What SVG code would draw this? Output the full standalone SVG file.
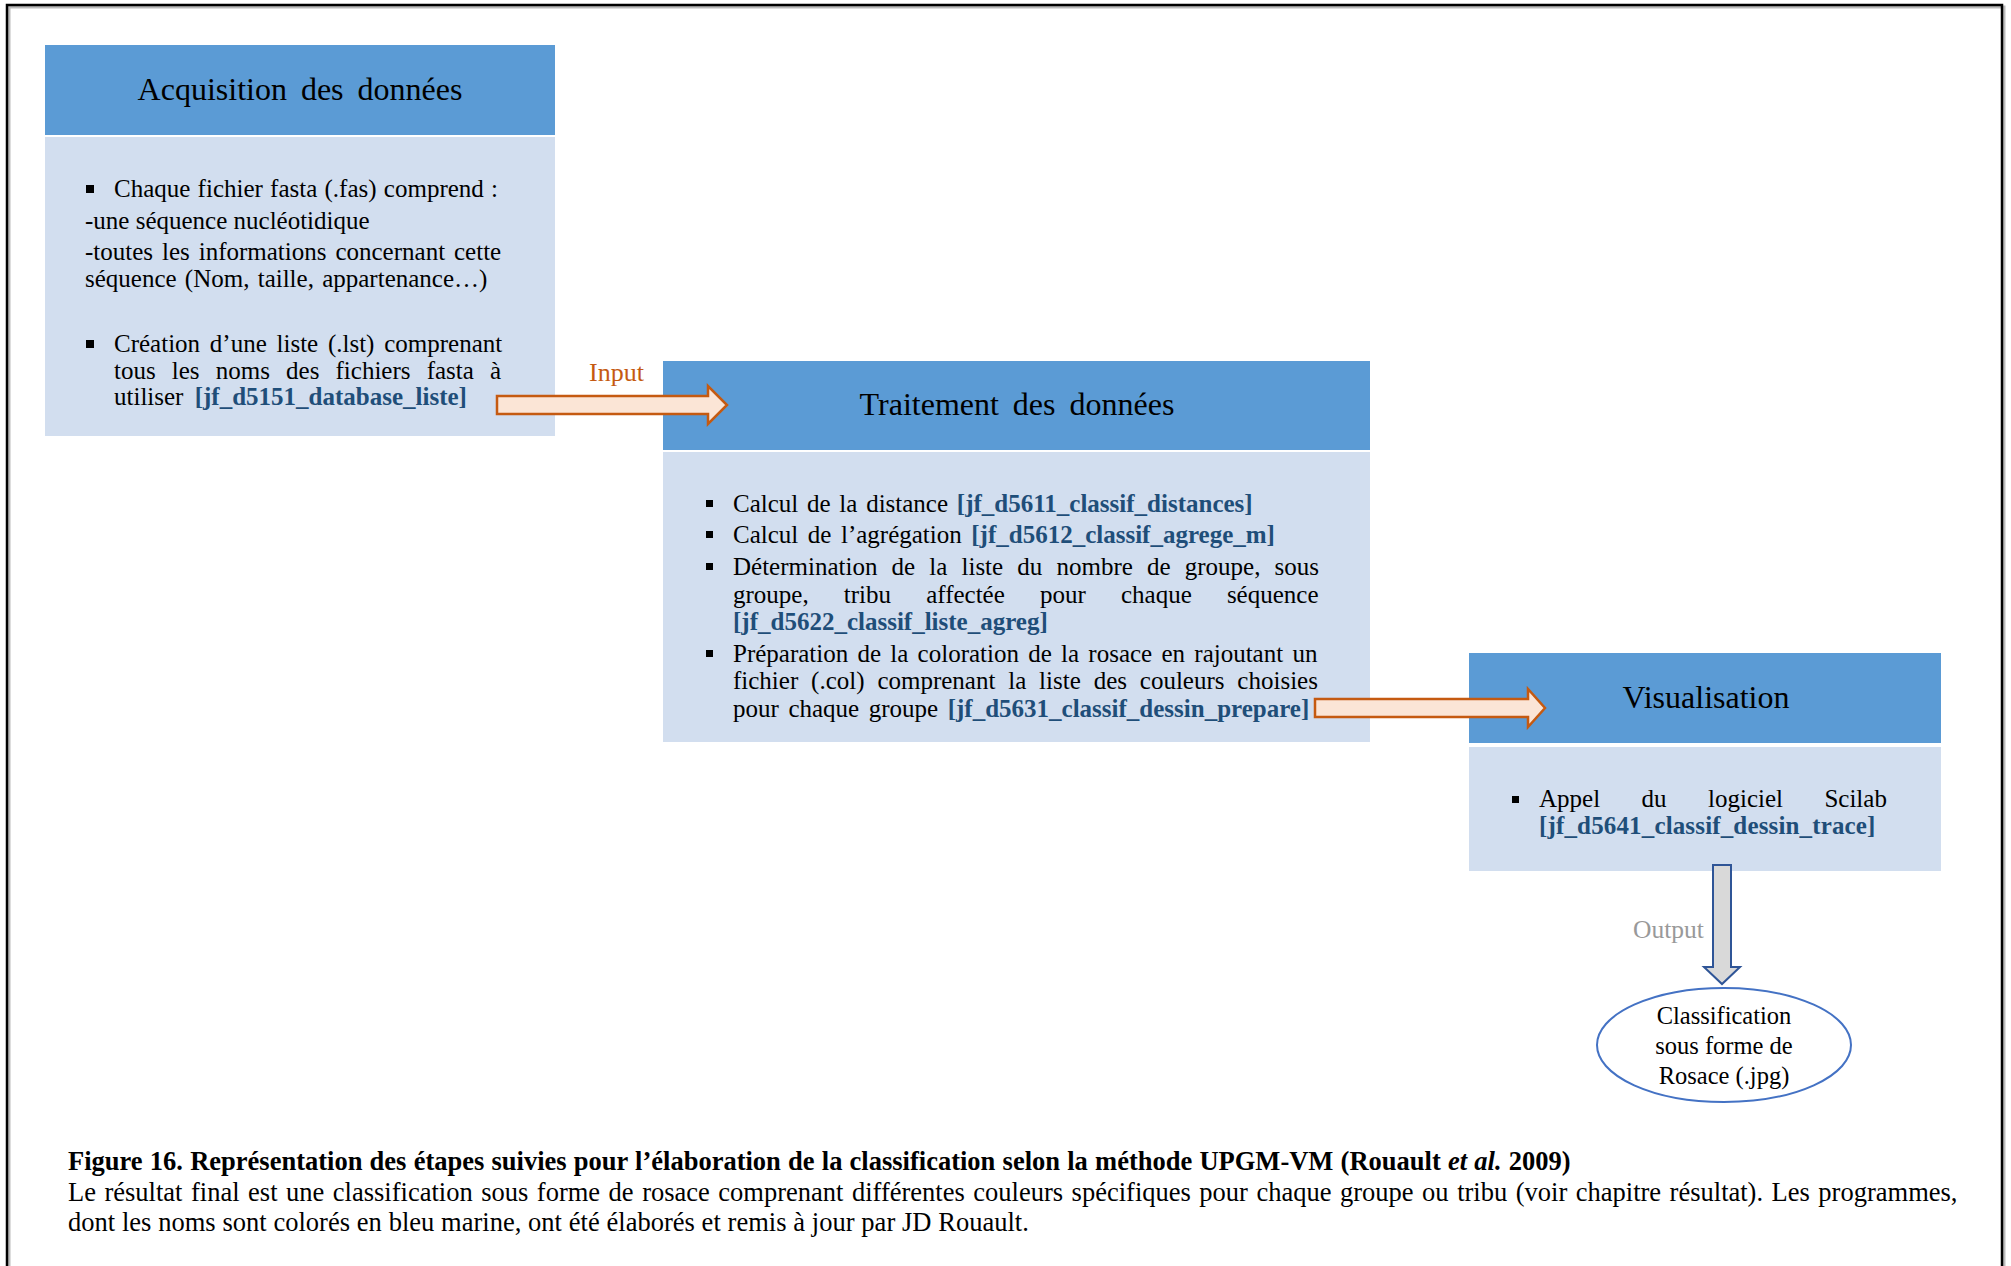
<svg xmlns="http://www.w3.org/2000/svg" width="2011" height="1266" viewBox="0 0 2011 1266">
<style>
text{font-family:"Liberation Serif","Times New Roman",serif;fill:#000;}
.title{font-size:32px;word-spacing:6px;text-anchor:middle;}
.body{font-size:25px;}
.prog{font-weight:bold;fill:#1F4E79;}
.head{fill:#5B9BD5;}
.panel{fill:#D2DEEF;}
.bul{fill:#000;}
.orange{fill:#FBE5D6;stroke:#C55A11;stroke-width:2.5;stroke-linejoin:miter;}
.grey{fill:#D9D9D9;stroke:#2F5597;stroke-width:2;}
.cap{font-size:26.5px;}
</style>
<rect width="2011" height="1266" fill="#fff"/>
<g id="frame">
<rect x="9" y="7" width="1995" height="1280" fill="none" stroke="#bbb" stroke-width="3"/>
<rect x="7" y="5" width="1995" height="1280" fill="none" stroke="#000" stroke-width="2.5"/>
</g>
<g id="node-acquisition">
<rect class="head" x="45" y="45" width="510" height="90"/>
<rect class="panel" x="45" y="137" width="510" height="299"/>
<text class="title" x="300" y="100">Acquisition des données</text>
<rect class="bul" x="86" y="185" width="8" height="8"/>
<text class="body" x="114" y="197" word-spacing="1">Chaque fichier fasta (.fas) comprend :</text>
<text class="body" x="85" y="229">-une séquence nucléotidique</text>
<text class="body" x="85" y="260" word-spacing="2.7">-toutes les informations concernant cette</text>
<text class="body" x="85" y="287" word-spacing="2">séquence (Nom, taille, appartenance…)</text>
<rect class="bul" x="86" y="340" width="8" height="8"/>
<text class="body" x="114" y="352" word-spacing="3.5">Création d’une liste (.lst) comprenant</text>
<text class="body" x="114" y="379" word-spacing="9.9">tous les noms des fichiers fasta à</text>
<text class="body" x="114" y="405" word-spacing="5">utiliser <tspan class="prog">[jf_d5151_database_liste]</tspan></text>
</g>
<g id="node-traitement">
<rect class="head" x="663" y="361" width="707" height="89"/>
<rect class="panel" x="663" y="452" width="707" height="290"/>
<text class="title" x="1017" y="415">Traitement des données</text>
<rect class="bul" x="706" y="500" width="7" height="7"/>
<text class="body" x="733" y="512" word-spacing="2.5">Calcul de la distance <tspan class="prog">[jf_d5611_classif_distances]</tspan></text>
<rect class="bul" x="706" y="531" width="7" height="7"/>
<text class="body" x="733" y="543" word-spacing="3.3">Calcul de l’agrégation <tspan class="prog">[jf_d5612_classif_agrege_m]</tspan></text>
<rect class="bul" x="706" y="563" width="7" height="7"/>
<text class="body" x="733" y="575" word-spacing="7.9">Détermination de la liste du nombre de groupe, sous</text>
<text class="body" x="733" y="603" word-spacing="28.9">groupe, tribu affectée pour chaque séquence</text>
<text class="body prog" x="733" y="630">[jf_d5622_classif_liste_agreg]</text>
<rect class="bul" x="706" y="650" width="7" height="7"/>
<text class="body" x="733" y="662" word-spacing="3">Préparation de la coloration de la rosace en rajoutant un</text>
<text class="body" x="733" y="689" word-spacing="6.6">fichier (.col) comprenant la liste des couleurs choisies</text>
<text class="body" x="733" y="717" word-spacing="3.3">pour chaque groupe <tspan class="prog">[jf_d5631_classif_dessin_prepare]</tspan></text>
</g>
<g id="node-visualisation">
<rect class="head" x="1469" y="653" width="472" height="90"/>
<rect class="panel" x="1469" y="747" width="472" height="124"/>
<text class="title" x="1706" y="708">Visualisation</text>
<rect class="bul" x="1512" y="796" width="7" height="7"/>
<text class="body" x="1539" y="807" word-spacing="35.2">Appel du logiciel Scilab</text>
<text class="body prog" x="1539" y="834" letter-spacing="0.15">[jf_d5641_classif_dessin_trace]</text>
</g>
<g id="connectors">
<path class="orange" d="M497,396 L708,396 L708,386 L727,405 L708,424 L708,414 L497,414 Z"/>
<path class="orange" d="M1315,699 L1528,699 L1528,689 L1545,708 L1528,727 L1528,717 L1315,717 Z"/>
<path class="grey" d="M1713,865 L1731,865 L1731,967 L1740,967 L1722,984 L1704,967 L1713,967 Z"/>
<text x="589" y="381" font-size="26" style="fill:#C55A11">Input</text>
<text x="1633" y="938" font-size="25.5" style="fill:#999999">Output</text>
</g>
<g id="node-result">
<ellipse cx="1724" cy="1045" rx="127" ry="57" fill="#fff" stroke="#4472C4" stroke-width="2"/>
<text x="1724" y="1024" font-size="24.5" text-anchor="middle">Classification</text>
<text x="1724" y="1054" font-size="24.5" text-anchor="middle">sous forme de</text>
<text x="1724" y="1084" font-size="24.5" text-anchor="middle">Rosace (.jpg)</text>
</g>
<g id="caption">
<text class="cap" x="68" y="1170" font-weight="bold" word-spacing="0.6">Figure 16. Représentation des étapes suivies pour l’élaboration de la classification selon la méthode UPGM-VM (Rouault <tspan font-style="italic">et al.</tspan> 2009)</text>
<text class="cap" x="68" y="1201" word-spacing="1.9">Le résultat final est une classification sous forme de rosace comprenant différentes couleurs spécifiques pour chaque groupe ou tribu (voir chapitre résultat). Les programmes,</text>
<text class="cap" x="68" y="1231" word-spacing="0.2">dont les noms sont colorés en bleu marine, ont été élaborés et remis à jour par JD Rouault.</text>
</g>
</svg>
